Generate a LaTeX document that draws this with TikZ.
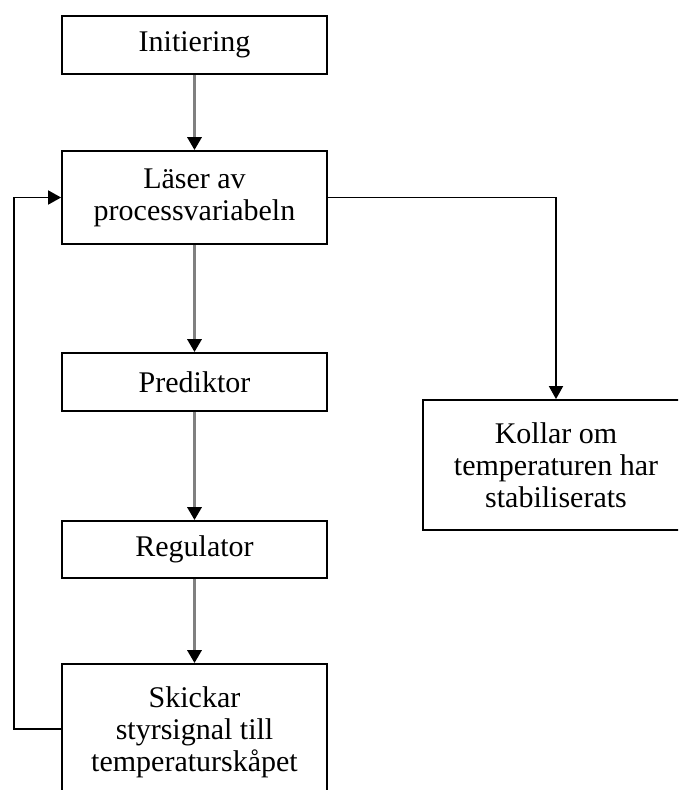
\documentclass[tikz,border=0pt]{standalone}
\usepackage{fontspec}
\setmainfont{Liberation Serif}
\usetikzlibrary{arrows.meta}
\begin{document}
\begin{tikzpicture}[x=1pt,y=-1pt,
  box/.style={draw=black, line width=1.8pt, fill=white, minimum width=265pt,
    align=center, inner sep=0pt, font=\fontsize{30}{32}\selectfont},
  flow/.style={draw=gray, line width=3.2pt,
    -{Triangle[length=13pt,width=14pt,color=black]}},
  side/.style={draw=black, line width=1.8pt,
    -{Triangle[length=13pt,width=14pt,color=black]}}]
\useasboundingbox (0,0) rectangle (678,790);
\fill[white] (0,0) rectangle (678,790);
\clip (0,0) rectangle (678,790);
\node[box, minimum height=58pt] (init) at (194.5,45) {Initiering};
\node[box, minimum height=93pt] (laser) at (194.5,197.5) {Läser av\\processvariabeln};
\node[box, minimum height=58pt] (pred) at (194.5,382) {Prediktor};
\node[box, minimum height=57pt] (reg) at (194.5,549.5) {Regulator};
\node[box, minimum height=136pt] (skick) at (194.5,732) {Skickar\\styrsignal till\\temperaturskåpet};
\node[box, minimum width=266pt, minimum height=130pt] (koll) at (556,465) {Kollar om\\temperaturen har\\stabiliserats};
\coordinate (fb) at (14,729);
\draw[flow] (init) -- (laser);
\draw[flow] (laser) -- (pred);
\draw[flow] (pred) -- (reg);
\draw[flow] (reg) -- (skick);
\draw[side] (skick.west |- fb) -- (fb) |- (laser.west);
\draw[side] (laser.east) -| (koll.north);
\end{tikzpicture}
\end{document}
